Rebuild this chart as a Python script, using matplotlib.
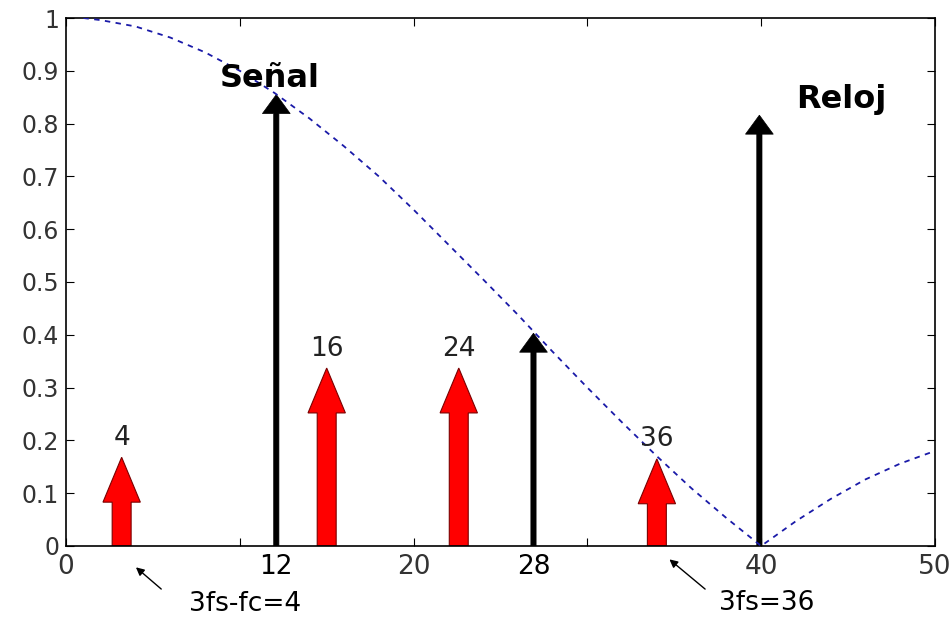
import matplotlib
matplotlib.use("Agg")
import matplotlib.pyplot as plt

# curve (dashed envelope)
curve_x = [1, 2, 4, 6, 8, 10, 12, 14, 16, 18, 20, 22, 24, 26, 28, 30, 32, 34, 36, 38, 40,
           42, 44, 46, 48, 50]
curve_y = [1.0, 0.996, 0.984, 0.963, 0.935, 0.900, 0.858, 0.810, 0.757, 0.700, 0.637,
           0.571, 0.505, 0.438, 0.368, 0.300, 0.234, 0.170, 0.109, 0.053, 0.0,
           0.047, 0.089, 0.126, 0.156, 0.180]

# red (image) components
red_x = [3.2, 15.0, 22.6, 34.0]
red_h = [0.168, 0.337, 0.337, 0.165]
red_labels = ["4", "16", "24", "36"]

# black components: signal, 2nd, clock
black_x = [12.1, 26.9, 39.9]
black_h = [0.855, 0.403, 0.816]
black_tick_labels = ["12", "28"]

x_ticks = [0, 10, 20, 30, 40, 50]
x_tick_labels = ["0", "", "20", "", "40", "50"]
y_ticks = [0, 0.1, 0.2, 0.3, 0.4, 0.5, 0.6, 0.7, 0.8, 0.9, 1.0]
y_tick_labels = ["0", "0.1", "0.2", "0.3", "0.4", "0.5", "0.6", "0.7", "0.8", "0.9", "1"]

fig = plt.figure(figsize=(9.53, 6.17), dpi=100)
ax = fig.add_axes([0.0693, 0.1151, 0.9117, 0.8557])

ax.plot(curve_x, curve_y, linestyle=(0, (3, 3)), color="#1a1aa8", lw=1.3, zorder=3)

for x, h in zip(red_x, red_h):
    ax.arrow(x, 0, 0, h, width=1.09, head_width=2.15, head_length=0.085,
             length_includes_head=True, facecolor="#ff0000", edgecolor="#7a0000",
             lw=0.8, zorder=2)
for x, h, lab in zip(red_x, red_h, red_labels):
    ax.text(x, h + 0.037, lab, ha="center", va="center", fontsize=19,
            color="#222222")

for x, h in zip(black_x, black_h):
    ax.arrow(x, 0, 0, h, width=0.3, head_width=1.6, head_length=0.036,
             length_includes_head=True, facecolor="black", edgecolor="black",
             lw=0.5, zorder=2)

ax.text(11.7, 0.886, "Señal", ha="center", va="center", fontsize=23, fontweight="bold")
ax.text(44.6, 0.845, "Reloj", ha="center", va="center", fontsize=23, fontweight="bold")

# annotations under the axis
ax.annotate("", xy=(3.9, -0.037), xytext=(5.6, -0.085), annotation_clip=False,
            arrowprops=dict(arrowstyle="-|>", color="black", lw=1, mutation_scale=12))
ax.text(7.1, -0.11, "3fs-fc=4", ha="left", va="center", fontsize=19, clip_on=False)
ax.annotate("", xy=(34.6, -0.022), xytext=(36.9, -0.085), annotation_clip=False,
            arrowprops=dict(arrowstyle="-|>", color="black", lw=1, mutation_scale=12))
ax.text(37.6, -0.108, "3fs=36", ha="left", va="center", fontsize=19, clip_on=False)

ax.set_xlim(0, 50)
ax.set_ylim(0, 1)
ax.set_xticks(x_ticks, labels=x_tick_labels)
ax.set_xticks(black_x[:2], labels=black_tick_labels, minor=True)
ax.set_yticks(y_ticks, labels=y_tick_labels)
ax.tick_params(which="major", direction="in", length=6, top=True, right=True,
               colors="black", labelcolor="#333333")
ax.tick_params(axis="x", which="both", labelsize=19, pad=6)
ax.tick_params(axis="x", which="minor", length=0)
ax.tick_params(axis="y", labelsize=17, pad=5)
for s in ax.spines.values():
    s.set_linewidth(1.2)

fig.savefig("out.png", dpi=100)
